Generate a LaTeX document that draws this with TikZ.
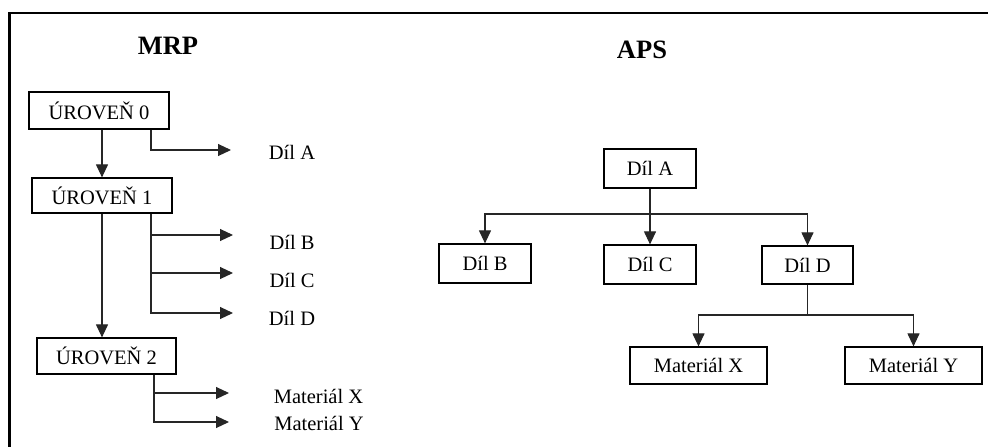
\documentclass[tikz,border=0pt]{standalone}
\usepackage{fontspec}
\setmainfont{Liberation Serif}
\usetikzlibrary{arrows.meta,calc}
\begin{document}
\begin{tikzpicture}[x=1pt,y=-1pt,
  box/.style={draw=black,line width=1.2pt,inner sep=0pt,align=center,font=\fontsize{20.5}{22}\selectfont},
  lbl/.style={inner sep=0pt,font=\fontsize{20.5}{22}\selectfont},
  ttl/.style={inner sep=0pt,font=\fontsize{26.5}{28}\selectfont\bfseries},
  conn/.style={draw=black!85,line width=1.1pt},
  arr/.style={conn,-{Triangle[length=13pt,width=12pt]}}]
\useasboundingbox (0,0) rectangle (988,447);

% frame
\coordinate (fr) at (988,13);
\coordinate (fc) at (9.5,13);
\coordinate (fb) at (9.5,447);
\draw[line width=2.3pt] (fr) -- (fc) -- (fb);

% ---- MRP ----
\node[ttl] (mrp) at (168,46) {MRP};
\node[box,minimum width=140pt,minimum height=37pt] (u0) at (99,110.5) {ÚROVEŇ 0};
\node[box,minimum width=140pt,minimum height=35pt] (u1) at (102,195.5) {ÚROVEŇ 1};
\node[box,minimum width=139pt,minimum height=36pt] (u2) at (106.5,356) {ÚROVEŇ 2};

\node[lbl] (la) at (292,152) {Díl A};
\node[lbl] (lb) at (292,242) {Díl B};
\node[lbl] (lc) at (292,280) {Díl C};
\node[lbl] (ld) at (292,318) {Díl D};
\node[lbl] (lx) at (318.5,396) {Materiál X};
\node[lbl] (ly) at (319,423) {Materiál Y};

\coordinate (b0) at (151,0);
\coordinate (b1) at (151,0);
\coordinate (b2) at (154,0);
\coordinate (ta) at (231,150);
\coordinate (tb) at (233,235);
\coordinate (tc) at (233,273);
\coordinate (td) at (233,313);
\coordinate (tx) at (229,393);
\coordinate (ty) at (229,422);

\draw[arr] (u1.north |- u0.south) -- (u1.north);
\draw[arr] (u1.south) -- (u1.south |- u2.north);
\draw[arr] (u0.south -| b0) |- (ta);
\draw[arr] (u1.south -| b1) |- (tb);
\draw[arr] (u1.south -| b1) |- (tc);
\draw[arr] (u1.south -| b1) |- (td);
\draw[arr] (u2.south -| b2) |- (tx);
\draw[arr] (u2.south -| b2) |- (ty);

% ---- APS ----
\node[ttl] (aps) at (642,50) {APS};
\node[box,minimum width=92pt,minimum height=39pt] (a) at (650,168.5) {Díl A};
\node[box,minimum width=92pt,minimum height=39pt] (b) at (485,263.5) {Díl B};
\node[box,minimum width=92pt,minimum height=39pt] (c) at (650,264.5) {Díl C};
\node[box,minimum width=91pt,minimum height=38pt] (d) at (807.5,265) {Díl D};
\node[box,minimum width=137pt,minimum height=37pt] (x) at (698.5,365.5) {Materiál X};
\node[box,minimum width=137pt,minimum height=37pt] (y) at (913.5,365.5) {Materiál Y};

\coordinate (ja) at (650,214);
\coordinate (jd) at (807.5,315);
\draw[arr] (a.south) -- (c.north);
\draw[arr] (ja) -| (b.north);
\draw[arr] (ja) -| (d.north);
\draw[conn] (d.south) -- (jd);
\draw[arr] (jd) -| (x.north);
\draw[arr] (jd) -| (y.north);
\end{tikzpicture}
\end{document}
